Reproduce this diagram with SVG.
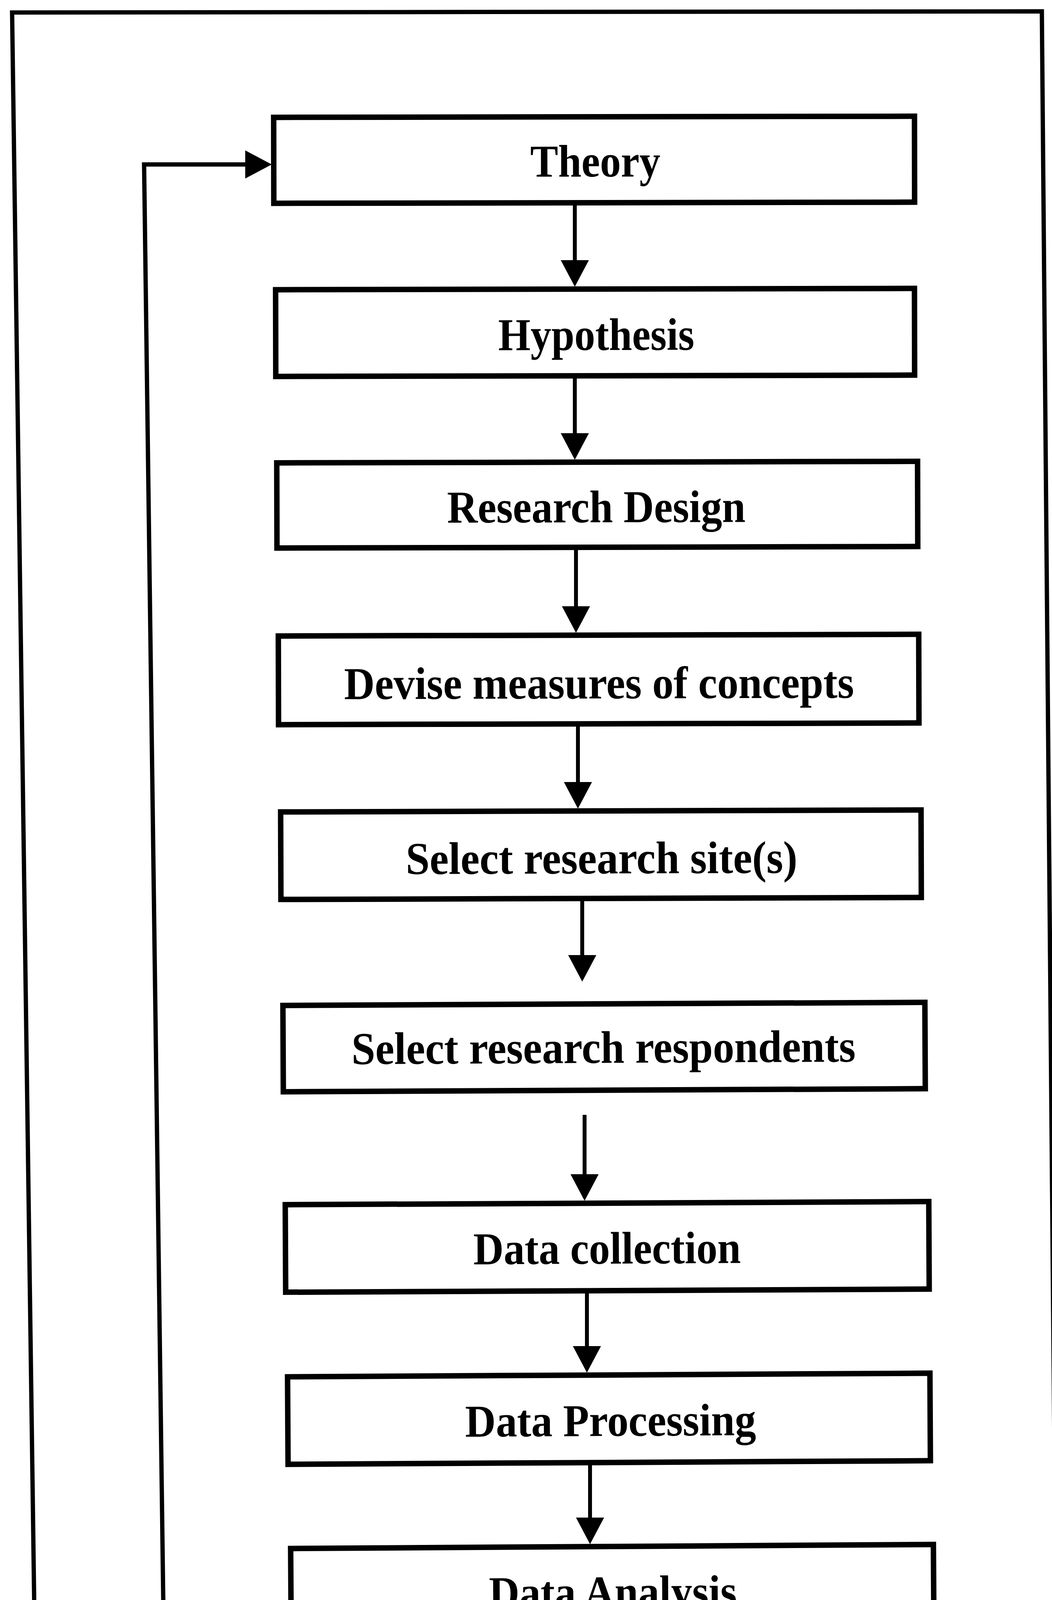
<svg xmlns="http://www.w3.org/2000/svg" width="2694" height="5194" viewBox="0 0 2694 5194">
<style>
.bg{fill:#ffffff}
.frame{fill:none;stroke:#000;stroke-width:11}
.box{fill:#ffffff;stroke:#000;stroke-width:14}
.lbl{font-family:"Liberation Serif","Times New Roman",serif;font-weight:bold;font-size:117px;fill:#000}
.conn{fill:none;stroke:#000;stroke-width:10}
.loop{fill:none;stroke:#000;stroke-width:11}
</style>
<defs>
<marker id="arr" viewBox="0 0 68 72" markerWidth="68" markerHeight="72" refX="1" refY="36" orient="auto" markerUnits="userSpaceOnUse">
<path d="M0,0 L68,36 L0,72 Z" fill="#000"/>
</marker>
</defs>
<rect class="bg" x="0" y="0" width="2694" height="5194"/>
<path class="frame" d="M103,5210 L31,32 L2668,29 L2713,5210"/>
<g id="connectors">
<path class="conn" d="M1472,519 V667" marker-end="url(#arr)"/>
<path class="conn" d="M1472,962 V1110" marker-end="url(#arr)"/>
<path class="conn" d="M1475,1401 V1553" marker-end="url(#arr)"/>
<path class="conn" d="M1480,1853 V2003" marker-end="url(#arr)"/>
<path class="conn" d="M1491,2300 V2446" marker-end="url(#arr)"/>
<path class="conn" d="M1497,2854 V3007" marker-end="url(#arr)"/>
<path class="conn" d="M1503,3304 V3447" marker-end="url(#arr)"/>
<path class="conn" d="M1511,3744 V3886" marker-end="url(#arr)"/>
<path class="conn" d="M1517,4189 V4334" marker-end="url(#arr)"/>
<path class="conn" d="M1528,4637 V4788" marker-end="url(#arr)"/>
<path class="loop" d="M763,4990 H430 L369,421 H629" marker-end="url(#arr)"/>
</g>
<g id="n1" transform="rotate(-0.1 1521 409)">
<rect class="box" x="701" y="299" width="1641" height="220"/>
<text class="lbl" x="1358" y="452" textLength="333" lengthAdjust="spacingAndGlyphs">Theory</text>
</g>
<g id="n2" transform="rotate(-0.12 1523 851)">
<rect class="box" x="706" y="740" width="1636" height="222"/>
<text class="lbl" x="1276" y="896" textLength="502" lengthAdjust="spacingAndGlyphs">Hypothesis</text>
</g>
<g id="n3" transform="rotate(-0.14 1529 1292)">
<rect class="box" x="709" y="1183" width="1641" height="218"/>
<text class="lbl" x="1145" y="1337" textLength="764" lengthAdjust="spacingAndGlyphs">Research Design</text>
</g>
<g id="n4" transform="rotate(-0.15 1533 1740)">
<rect class="box" x="713" y="1626" width="1640" height="227"/>
<text class="lbl" x="881" y="1788" textLength="1306" lengthAdjust="spacingAndGlyphs">Devise measures of concepts</text>
</g>
<g id="n5" transform="rotate(-0.18 1539 2188)">
<rect class="box" x="719" y="2076" width="1640" height="224"/>
<text class="lbl" x="1039" y="2236" textLength="1003" lengthAdjust="spacingAndGlyphs">Select research site(s)</text>
</g>
<g id="n6" transform="rotate(-0.28 1547 2680)">
<rect class="box" x="725" y="2570" width="1644" height="221"/>
<text class="lbl" x="900" y="2721" textLength="1291" lengthAdjust="spacingAndGlyphs">Select research respondents</text>
</g>
<g id="n7" transform="rotate(-0.28 1555 3192)">
<rect class="box" x="731" y="3080" width="1648" height="224"/>
<text class="lbl" x="1212" y="3235" textLength="685" lengthAdjust="spacingAndGlyphs">Data collection</text>
</g>
<g id="n8" transform="rotate(-0.32 1560 3632)">
<rect class="box" x="737" y="3520" width="1645" height="224"/>
<text class="lbl" x="1191" y="3676" textLength="745" lengthAdjust="spacingAndGlyphs">Data Processing</text>
</g>
<g id="n9" transform="rotate(-0.36 1568 4074)">
<rect class="box" x="745" y="3959" width="1646" height="230"/>
<text class="lbl" x="1252" y="4115" textLength="635" lengthAdjust="spacingAndGlyphs">Data Analysis</text>
</g>
<g id="n10" transform="rotate(-0.42 1575 4522)">
<rect class="box" x="751" y="4407" width="1647" height="230"/>
<text class="lbl" x="1100" y="4565" textLength="950" lengthAdjust="spacingAndGlyphs">Findings /conclusion</text>
</g>
<g id="n11" transform="rotate(-0.55 1590 4978)">
<rect class="box" x="763" y="4861" width="1655" height="235"/>
<text class="lbl" x="876" y="5020" textLength="1426" lengthAdjust="spacingAndGlyphs">Write up findings/ conclusions</text>
</g>
</svg>
